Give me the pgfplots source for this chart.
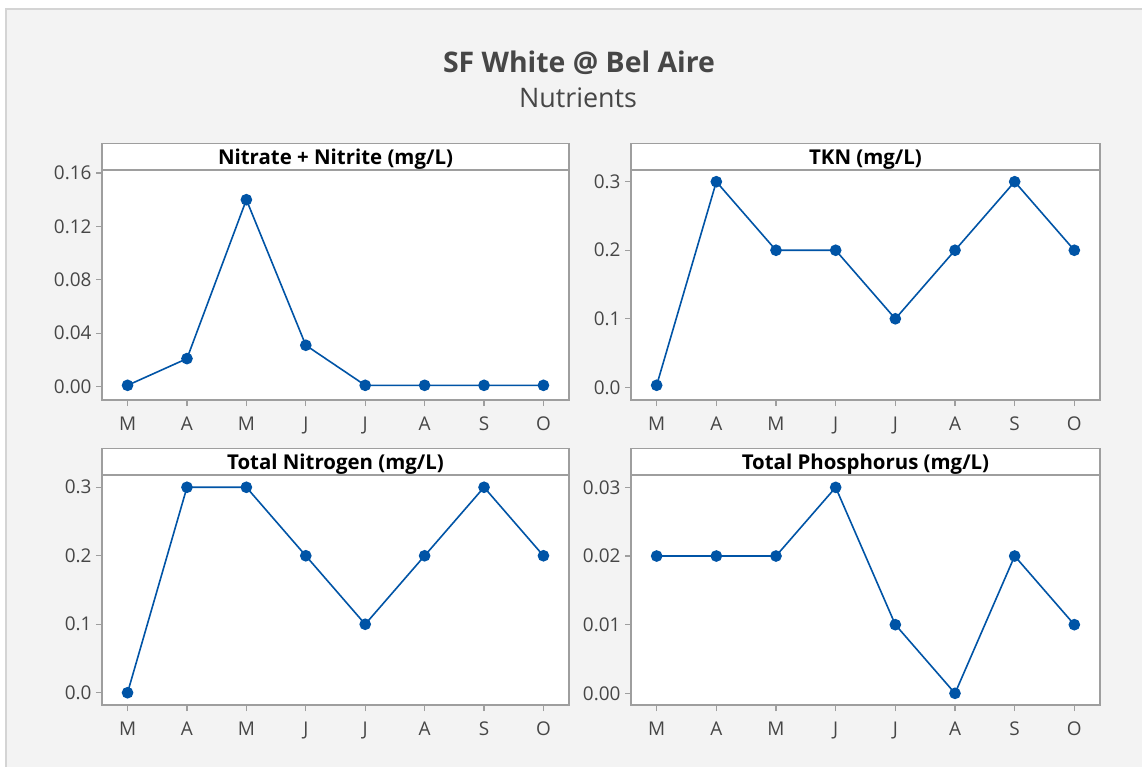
\documentclass[border=0pt]{standalone}
\usepackage{pgfplots}
\pgfplotsset{compat=1.18}
\usepackage{fontspec}
\setmainfont{Open Sans}

\definecolor{bggray}{RGB}{243,243,243}
\definecolor{bordergray}{RGB}{212,212,212}
\definecolor{framegray}{RGB}{158,158,158}
\definecolor{labgray}{RGB}{70,70,70}
\definecolor{lineblue}{RGB}{0,84,166}

\pgfplotsset{
  panel/.style={
    scale only axis, height=230bp,
    xmin=-0.43, xmax=7.43,
    xtick={0,...,7}, xticklabels={M,A,M,J,J,A,S,O},
    axis line style={framegray, line width=1.5bp},
    axis background/.style={fill=white},
    tick pos=left, tick align=outside,
    major tick length=6bp,
    tick style={framegray, line width=1.2bp},
    ticklabel style={font=\fontsize{19}{21}\selectfont, text=labgray},
    xticklabel style={yshift=-7bp},
    yticklabel style={xshift=-1bp},
    scaled y ticks=false,
    /pgf/number format/assume math mode=true,
    yticklabel style={/pgf/number format/fixed, /pgf/number format/fixed zerofill},
    every axis title shift=0pt,
    title style={at={(0.5,1)}, anchor=south, draw=framegray, line width=1.5bp,
      fill=white, minimum height=26bp, inner sep=0pt,
      text height=17bp, text depth=0bp,
      font=\bfseries\fontsize{20.5}{22}\selectfont, text=black},
  },
  series/.style={lineblue, line width=1.6bp, mark=*, mark size=5bp,
    mark options={fill=lineblue, draw=lineblue, solid}},
}

\begin{document}
\begin{tikzpicture}
\useasboundingbox (0bp,0bp) rectangle (1142bp,-767bp);
\fill[white] (0bp,0bp) rectangle (1142bp,-767bp);
\fill[bggray] (6bp,-9bp) rectangle (1142bp,-767bp);
\draw[bordergray, line width=1.5bp] (6bp,-767bp) -- (6bp,-9bp) -- (1142bp,-9bp);

\node[anchor=base, text=labgray, font=\bfseries\fontsize{28.5}{31}\selectfont] at (579bp,-72.7bp) {SF White @ Bel Aire};
\node[anchor=base, text=labgray, font=\fontsize{27}{30}\selectfont] at (578bp,-107.3bp) {Nutrients};

% Nitrate + Nitrite
\begin{axis}[panel, width=467bp, at={(102bp,-400bp)}, anchor=south west,
  title style={minimum width=467bp}, title={Nitrate + Nitrite (mg/L)},
  ymin=-0.0100, ymax=0.16225, ytick={0,0.04,0.08,0.12,0.16},
  yticklabel style={/pgf/number format/precision=2}]
\addplot[series] coordinates {(0,0.001) (1,0.021) (2,0.14) (3,0.031) (4,0.001) (5,0.001) (6,0.001) (7,0.001)};
\end{axis}

% TKN
\begin{axis}[panel, width=469bp, at={(631bp,-400bp)}, anchor=south west,
  title style={minimum width=469bp}, title={TKN (mg/L)},
  ymin=-0.0185, ymax=0.3171, ytick={0,0.1,0.2,0.3},
  yticklabel style={/pgf/number format/precision=1}]
\addplot[series] coordinates {(0,0.003) (1,0.3) (2,0.2) (3,0.2) (4,0.1) (5,0.2) (6,0.3) (7,0.2)};
\end{axis}

% Total Nitrogen
\begin{axis}[panel, width=467bp, at={(102bp,-705bp)}, anchor=south west,
  title style={minimum width=467bp}, title={Total Nitrogen (mg/L)},
  ymin=-0.0179, ymax=0.3179, ytick={0,0.1,0.2,0.3},
  yticklabel style={/pgf/number format/precision=1}]
\addplot[series] coordinates {(0,0) (1,0.3) (2,0.3) (3,0.2) (4,0.1) (5,0.2) (6,0.3) (7,0.2)};
\end{axis}

% Total Phosphorus
\begin{axis}[panel, width=469bp, at={(631bp,-705bp)}, anchor=south west,
  title style={minimum width=469bp}, title={Total Phosphorus (mg/L)},
  ymin=-0.0017, ymax=0.0318, ytick={0,0.01,0.02,0.03},
  yticklabel style={/pgf/number format/precision=2}]
\addplot[series] coordinates {(0,0.02) (1,0.02) (2,0.02) (3,0.03) (4,0.01) (5,0) (6,0.02) (7,0.01)};
\end{axis}
\end{tikzpicture}
\end{document}
